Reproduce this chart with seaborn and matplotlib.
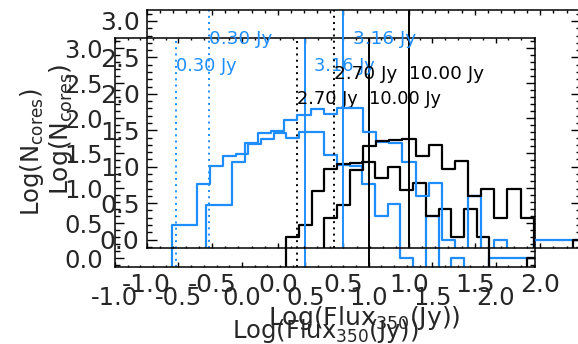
import numpy as np
import pandas as pd
import matplotlib
matplotlib.use("Agg")
import matplotlib.pyplot as plt
import seaborn as sns

# ---- data ----
# log10(flux) bin edges for the blue sample (bins of 0.1 dex)
blue_edges = [-0.55, -0.45, -0.35, -0.25, -0.15, -0.05, 0.05, 0.15, 0.25, 0.35,
              0.45, 0.55, 0.65, 0.75, 0.85, 0.95, 1.05, 1.15, 1.25, 1.35,
              1.45, 1.55, 1.65, 1.75, 1.85, 1.95, 2.05, 2.15, 2.25, 2.35]
# log10(N) per bin, None = empty bin
blue_logn = [0.48, 0.48, 1.06, 1.32, 1.46, 1.49, 1.64, 1.71, 1.79, 1.72,
             1.81, 1.81, 1.48, 1.34, 1.32, 1.06, 0.60, 0.78, 0.00, None,
             0.60, None, 0.00, None, None, 0.00, 0.00, 0.00, 0.00]

black_edges = [0.35, 0.45, 0.55, 0.65, 0.75, 0.85, 0.95, 1.05, 1.15, 1.25,
               1.35, 1.45, 1.55, 1.65, 1.75, 1.85, 1.95, 2.05, 2.15, 2.25, 2.35]
black_logn = [0.30, 0.48, 0.96, 1.28, 1.35, 1.36, 1.38, 1.15, 1.30, 0.97,
              1.08, 0.60, 0.70, 0.30, 0.70, 0.30, None, None, None, 0.00]

# completeness / threshold fluxes (Jy)
thr_flux = [0.30, 3.16, 2.70, 10.00]
thr_color = ["blue", "blue", "black", "black"]
thr_style = ["dotted", "solid", "dotted", "solid"]

BLUE = "#1E8EFF"
FLOOR = -1.0  # empty bins drop below the axis floor

XLIM = (-1.0, 2.31)
YLIM = (-0.12, 3.15)


def step_frame(edges, logn):
    vals = [FLOOR if v is None else v for v in logn]
    xs = [edges[0]] + list(edges)
    ys = [FLOOR] + vals + [vals[-1]]
    return pd.DataFrame({"x": xs, "y": ys})


blue_df = step_frame(blue_edges, blue_logn)
black_df = step_frame(black_edges, black_logn)

sns.set_style("ticks")
plt.rcParams["font.family"] = ["DejaVu Sans"]

W, H = 578, 344
fig = plt.figure(figsize=(W / 100, H / 100), dpi=100)
fig.patch.set_facecolor("white")


def px_axes(left, top, right, bottom):
    return fig.add_axes([left / W, 1 - bottom / H, (right - left) / W, (bottom - top) / H])


def draw_panel(ax, scale, xpad, ypad, xlabelpad, ylabelpad):
    ax.set_facecolor("none")
    sns.lineplot(data=blue_df, x="x", y="y", ax=ax, color=BLUE, lw=1.6,
                 drawstyle="steps-post", estimator=None, sort=False)
    sns.lineplot(data=black_df, x="x", y="y", ax=ax, color="black", lw=1.6,
                 drawstyle="steps-post", estimator=None, sort=False)
    label_y = {"blue": 2.68, "black": 2.20}
    label_dx = [0.0, 0.07, 0.0, 0.0]
    for f, c, s, dx in zip(thr_flux, thr_color, thr_style, label_dx):
        col = BLUE if c == "blue" else "black"
        lx = np.log10(f)
        if s == "dotted":
            ax.axvline(lx, color=col, lw=1.4, ls=(0, (1.0, 2.2)))
        else:
            ax.axvline(lx, color=col, lw=1.4, ls="-")
        ax.text(lx + dx, label_y[c], f"{f:.2f} Jy", color=col,
                fontsize=13.2 * scale, ha="left", va="baseline")
    ax.set_xlim(*XLIM)
    ax.set_ylim(*YLIM)
    ax.xaxis.set_major_locator(matplotlib.ticker.MultipleLocator(0.5))
    ax.xaxis.set_minor_locator(matplotlib.ticker.MultipleLocator(0.1))
    ax.yaxis.set_major_locator(matplotlib.ticker.MultipleLocator(0.5))
    ax.yaxis.set_minor_locator(matplotlib.ticker.MultipleLocator(0.1))
    ax.xaxis.set_major_formatter(matplotlib.ticker.FormatStrFormatter("%.1f"))
    ax.yaxis.set_major_formatter(matplotlib.ticker.FormatStrFormatter("%.1f"))
    ax.tick_params(axis="x", which="both", direction="in", top=True, bottom=True,
                   labelsize=18 * scale, pad=xpad, width=1.0, color="black")
    ax.tick_params(axis="y", which="both", direction="in", left=True, right=True,
                   labelsize=18 * scale, pad=ypad, width=1.0, color="black")
    ax.tick_params(axis="x", which="major", length=3.6 * scale)
    ax.tick_params(axis="x", which="minor", length=1.8 * scale)
    ax.tick_params(axis="y", which="major", length=7.0 * scale)
    ax.tick_params(axis="y", which="minor", length=3.5 * scale)
    for sp in ax.spines.values():
        sp.set_linewidth(1.1)
        sp.set_color("black")
    ax.set_xlabel(r"Log(Flux$_{\mathrm{350}}$(Jy))", fontsize=18 * scale, labelpad=xlabelpad)
    ax.set_ylabel(r"Log(N$_{\mathrm{cores}}$)", fontsize=18 * scale, labelpad=ylabelpad)


# panel B (smaller, lower-left)
axB = px_axes(115, 38, 535, 266.7)
draw_panel(axB, 0.97, 14.0, 8.5, 5.0, 13)
# panel A (larger, shifted up-right, partly off the canvas)
axA = px_axes(146.5, 10, 581, 248.3)
draw_panel(axA, 1.0, 18.0, 5.0, 4.8, 17.5)

fig.savefig("out.png", dpi=100, facecolor="white")
